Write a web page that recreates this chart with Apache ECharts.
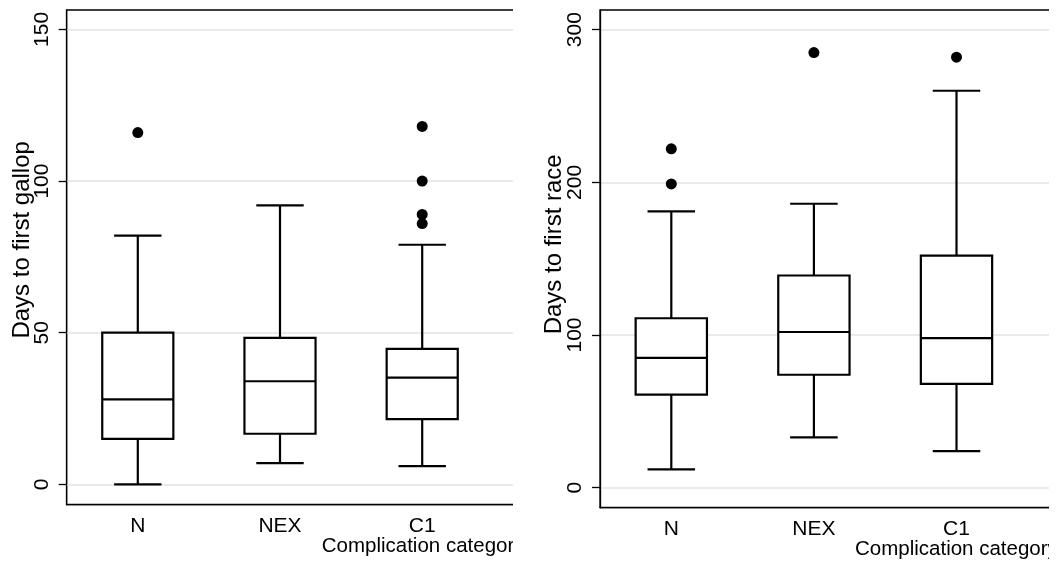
<!DOCTYPE html>
<html>
<head>
<meta charset="utf-8">
<script src="https://cdn.jsdelivr.net/npm/echarts@6/dist/echarts.min.js"></script>
<style>
body { margin: 0; background: #fff; }
.panel { position: absolute; top: 0; height: 571px; overflow: hidden; }
.chart { width: 700px; height: 571px; }
</style>
</head>
<body>
<div class="panel" style="left:0;width:513px"><div id="gallop" class="chart"></div></div>
<div class="panel" style="left:530px;width:519px"><div id="race" class="chart"></div></div>
<script>
var categories = ['N', 'NEX', 'C1'];

// days to first gallop: [lower whisker, q1, median, q3, upper whisker]
var gallopBoxes = [
    [0, 15, 28, 50, 82],
    [7, 16.7, 34, 48.3, 92],
    [6, 21.5, 35.2, 44.7, 79]
];
var gallopOutliers = [['N', 116], ['C1', 118], ['C1', 100], ['C1', 89], ['C1', 86]];
var gallopTicks = [0, 50, 100, 150];

// days to first race
var raceBoxes = [
    [12, 61, 85, 111, 181],
    [33, 74, 102, 139, 186],
    [24, 68, 98, 152, 260]
];
var raceOutliers = [['N', 222], ['N', 199], ['NEX', 285], ['C1', 282]];
var raceTicks = [0, 100, 200, 300];

var font = "'Liberation Sans', Arial, Helvetica, sans-serif";

function renderBox(params, api) {
    var x = api.value(0);
    var low = api.coord([x, api.value(1)]);
    var q1 = api.coord([x, api.value(2)]);
    var med = api.coord([x, api.value(3)]);
    var q3 = api.coord([x, api.value(4)]);
    var high = api.coord([x, api.value(5)]);
    var band = api.size([1, 0])[0];
    var hw = band / 4, cw = band / 6, cx = low[0];
    function seg(x1, y1, x2, y2) {
        return { type: 'line', shape: { x1: x1, y1: y1, x2: x2, y2: y2 },
                 style: { stroke: '#000', lineWidth: 2.2 } };
    }
    return {
        type: 'group',
        children: [
            seg(cx, low[1], cx, q1[1]),
            seg(cx, q3[1], cx, high[1]),
            seg(cx - cw, low[1], cx + cw, low[1]),
            seg(cx - cw, high[1], cx + cw, high[1]),
            { type: 'rect', shape: { x: cx - hw, y: q3[1], width: hw * 2, height: q1[1] - q3[1] },
              style: { stroke: '#000', lineWidth: 2.2, fill: '#fff' } },
            seg(cx - hw, med[1], cx + hw, med[1])
        ]
    };
}

function makeOption(p) {
    var boxData = p.boxes.map(function (b, i) { return [i].concat(b); });
    return {
        animation: false,
        textStyle: { fontFamily: font },
        title: {
            text: 'Complication category',
            left: p.left + 255, top: p.top + p.height + 31, padding: 0,
            textStyle: { fontSize: 20.5, fontWeight: 'normal', color: '#000', fontFamily: font }
        },
        grid: {
            left: p.left, top: p.top, width: 4 * p.band, height: p.height,
            containLabel: false, outerBoundsMode: 'none',
            show: true, borderColor: '#000', borderWidth: 1.3, backgroundColor: 'transparent'
        },
        xAxis: {
            type: 'category',
            data: categories.concat(['']),
            axisLine: { show: true, onZero: false, lineStyle: { color: '#000', width: 1.3 } },
            axisTick: { show: false },
            axisLabel: { fontSize: 21, color: '#000', margin: 11 },
            splitLine: { show: false }
        },
        yAxis: {
            type: 'value', min: p.min, max: p.max,
            name: p.name, nameLocation: 'middle', nameGap: p.nameGap, nameMoveOverlap: false,
            nameTextStyle: { fontSize: 24, color: '#000', padding: [0, 0, 0, p.nameShift] },
            axisLine: { show: true, onZero: false, lineStyle: { color: '#000', width: 1.3 } },
            axisTick: { show: true, length: 8, customValues: p.ticks, lineStyle: { color: '#000', width: 1.3 } },
            axisLabel: { rotate: 90, margin: 14, fontSize: 21, color: '#000', customValues: p.ticks },
            splitLine: { show: true, lineStyle: { color: '#e3e3e3', width: 1.5 } }
        },
        series: [{
            type: 'custom',
            renderItem: renderBox,
            encode: { x: 0, y: [1, 2, 3, 4, 5] },
            data: boxData,
            z: 3
        }, {
            type: 'scatter',
            symbol: 'circle',
            symbolSize: 11,
            itemStyle: { color: '#000', opacity: 1 },
            data: p.outliers,
            z: 4
        }]
    };
}

var gallopChart = echarts.init(document.getElementById('gallop'));
gallopChart.setOption(makeOption({
    left: 66.7, top: 10, height: 494.7, band: 142.2,
    min: -6.7, max: 156.4, ticks: gallopTicks,
    name: 'Days to first gallop', nameGap: 32, nameShift: 35,
    boxes: gallopBoxes, outliers: gallopOutliers
}));

var raceChart = echarts.init(document.getElementById('race'));
raceChart.setOption(makeOption({
    left: 70, top: 10, height: 497.7, band: 142.6,
    min: -13.1, max: 312.9, ticks: raceTicks,
    name: 'Days to first race', nameGap: 34, nameShift: 29,
    boxes: raceBoxes, outliers: raceOutliers
}));

window.onresize = function () {
    gallopChart.resize();
    raceChart.resize();
};
</script>
</body>
</html>
